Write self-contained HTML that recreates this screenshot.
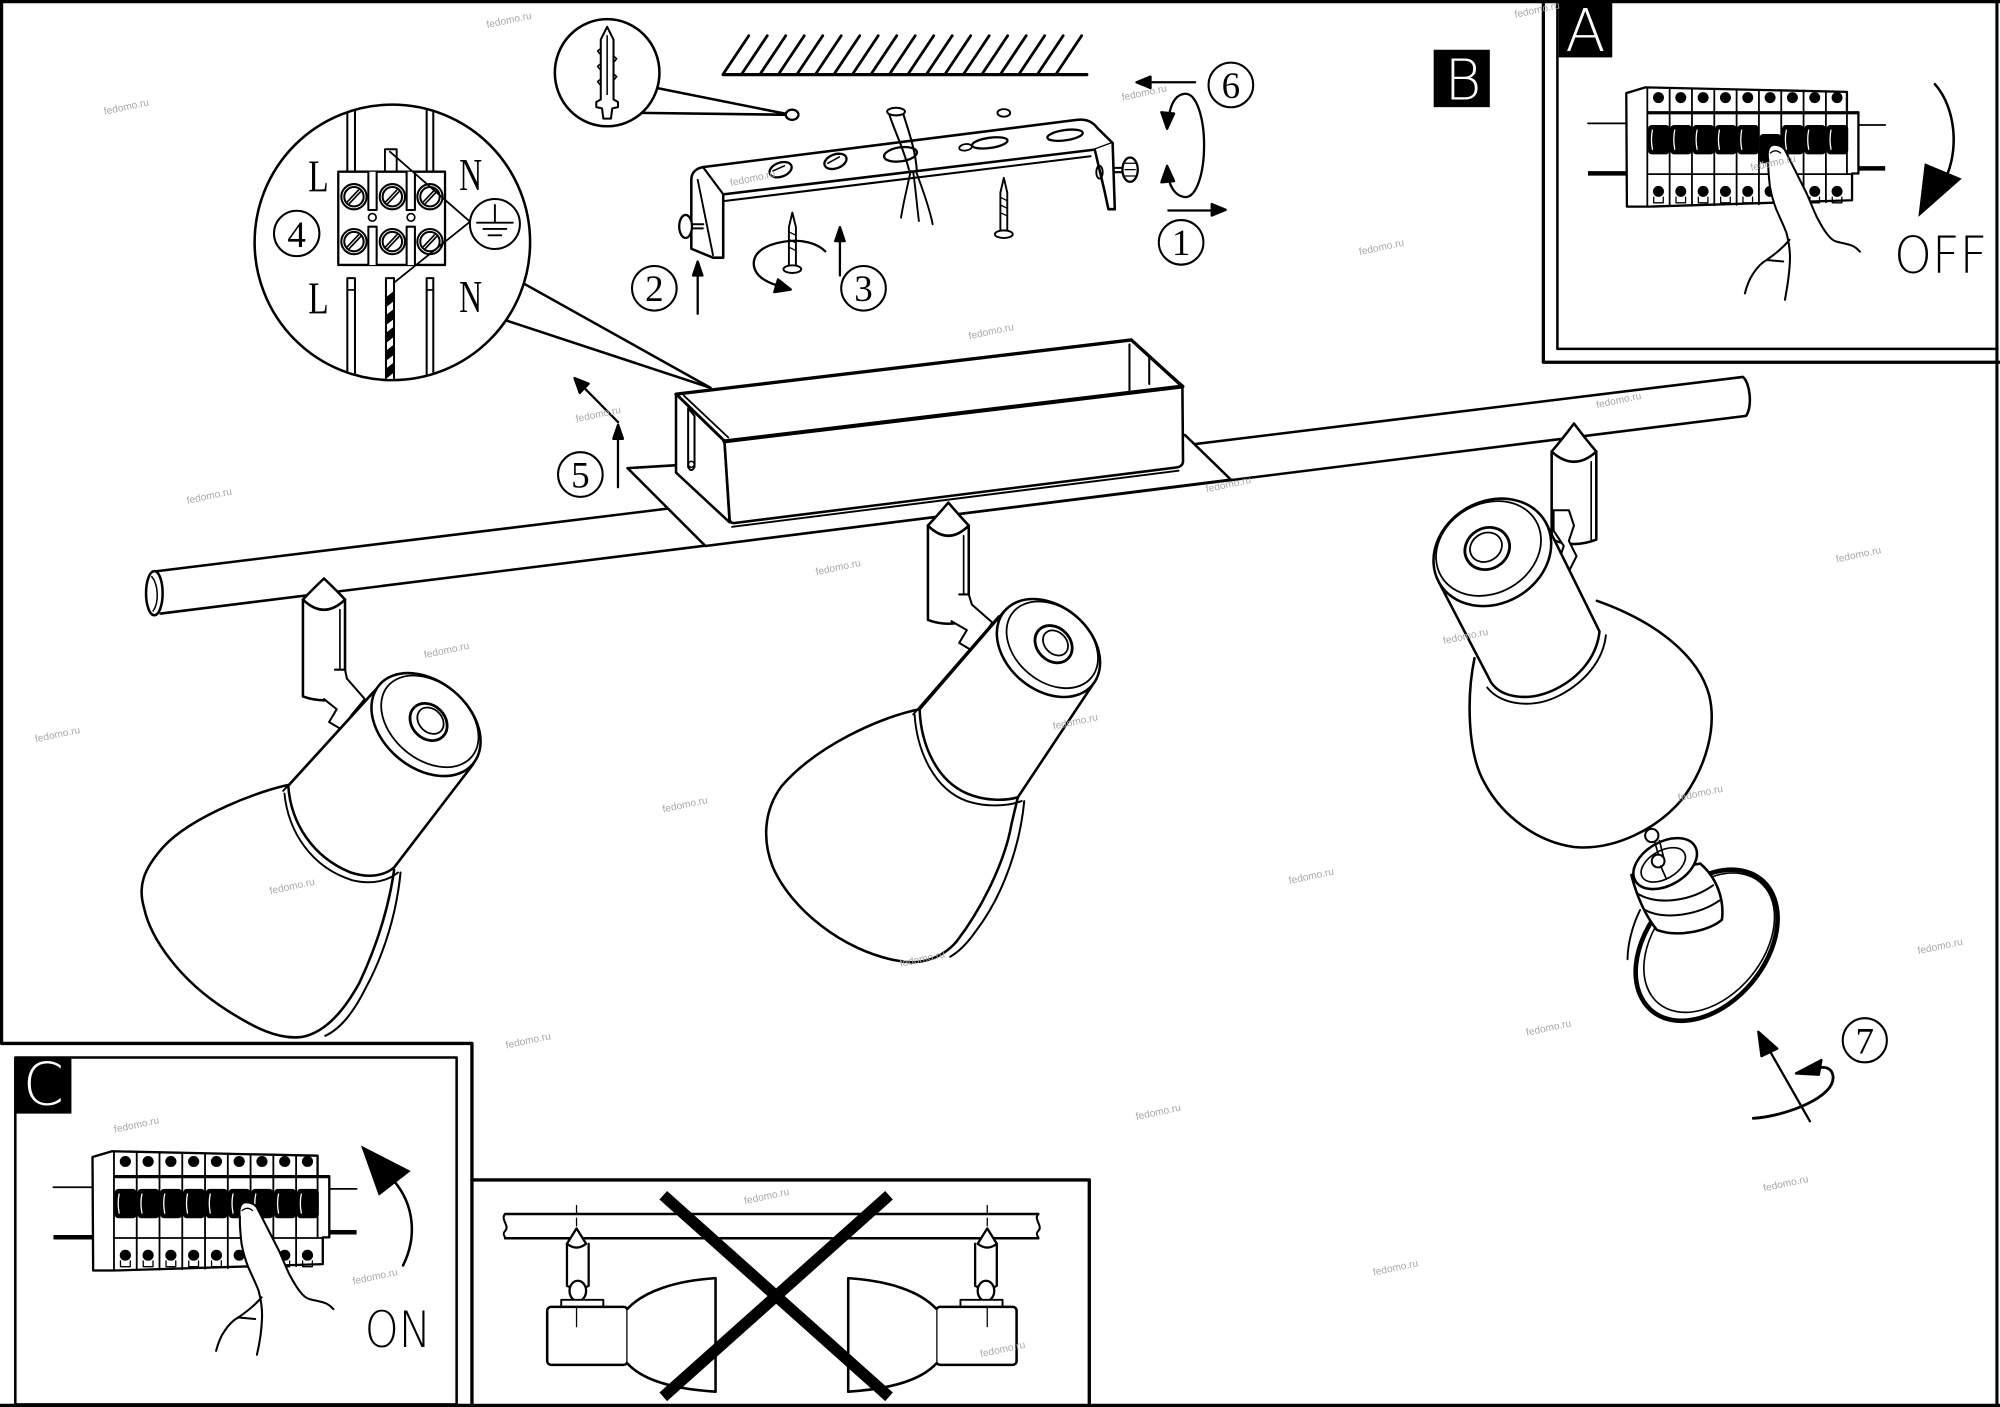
<!DOCTYPE html>
<html><head><meta charset="utf-8"><title>Assembly diagram</title>
<style>html,body{margin:0;padding:0;background:#fff}svg{display:block}</style></head>
<body>
<svg xmlns="http://www.w3.org/2000/svg" width="2000" height="1407" viewBox="0 0 1568 1103" preserveAspectRatio="none">
<defs>
<clipPath id="mc"><circle cx="307.6" cy="190" r="107"/></clipPath>
</defs>
<rect x="0" y="0" width="1568" height="1103" fill="#fff"/>
<g fill="none" stroke="#000" stroke-width="1.8" stroke-linecap="round" stroke-linejoin="round">

<!-- frames -->
<path d="M0,1.2 H1568" stroke-width="2.6"/>
<path d="M1.2,0 V818 H370 V1103" stroke-width="2.6"/>
<path d="M0,1101.8 H1568" stroke-width="2.6"/>
<path d="M1565.6,0 V1103" stroke-width="2.4"/>
<rect x="12" y="829" width="346" height="272" stroke-width="2"/>
<path d="M370,925 H854 V1103" stroke-width="2.6"/>
<path d="M1210,0 V284 H1568" stroke-width="2.6"/>
<path d="M1221,0 V273.5 H1566" stroke-width="2"/>

<!-- ceiling hatch -->
<path d="M567,58L587,28M581.5,58L601.5,28M596,58L616,28M610.5,58L630.5,28M625,58L645,28M639.5,58L659.5,28M654,58L674,28M668.5,58L688.5,28M683,58L703,28M697.5,58L717.5,28M712,58L732,28M726.5,58L746.5,28M741,58L761,28M755.5,58L775.5,28M770,58L790,28M784.5,58L804.5,28M799,58L819,28M813.5,58L833.5,28M828,58L848,28" stroke-width="2.2"/>
<path d="M567,58.5 H852" stroke-width="2.6"/>

<!-- dowel magnifier -->
<path d="M515,69 L620,90 M502,88.5 L620,90" stroke-width="2"/>
<ellipse cx="621" cy="90" rx="5" ry="4" fill="#fff"/>
<ellipse cx="476" cy="57" rx="41" ry="42" fill="#fff" stroke-width="2"/>
<path d="M476,21 L471,31 L471,78 L467.5,80 L467.5,84 L472,85 L473,93 L479,93 L480,85 L484.5,84 L484.5,80 L481,78 L481,31 Z" fill="#fff" stroke-width="1.6"/>
<path d="M476,28 V74 M471,38 L468.5,40 L471,43 M471,50 L468.5,52 L471,55 M471,62 L468.5,64 L471,67 M481,44 L483.5,46 L481,49 M481,58 L483.5,60 L481,63" stroke-width="1.2"/>

<!-- bracket -->
<path d="M551,131 L844,94 C852,93 857,96 860,100 L872.3,112.1 L858.3,117.3 L566.9,152.4 Z" fill="#fff" stroke-width="2"/>
<path d="M551,131 C546,132 542,135 542,141 L542,195 L559,202 L567,202 L567,153" fill="#fff" stroke-width="2"/>
<path d="M551,131 L567,152.4 M547,141 L559,200" stroke-width="1.5"/>
<path d="M568,157.6 L855,122.5" stroke-width="1.6"/>
<path d="M858.3,117.3 L866,150 L869,164 L874,164 L872.3,112.1" fill="#fff" stroke-width="2"/>
<ellipse cx="862" cy="135" rx="2.5" ry="5" stroke-width="1.5"/>
<ellipse cx="612" cy="133" rx="9" ry="5.5" transform="rotate(-20 612 133)" stroke-width="1.8"/>
<path d="M606,134 L615,130" stroke-width="1.2"/>
<ellipse cx="655" cy="126.5" rx="9" ry="5.5" transform="rotate(-20 655 126.5)" stroke-width="1.8"/>
<path d="M649,128 L658,123" stroke-width="1.2"/>
<ellipse cx="706" cy="121" rx="13" ry="5.5" transform="rotate(-8 706 121)" stroke-width="1.8"/>
<ellipse cx="757" cy="115.5" rx="5" ry="2.5" transform="rotate(-8 757 115.5)" stroke-width="1.4"/>
<ellipse cx="776" cy="112" rx="14" ry="4" transform="rotate(-8 776 112)" stroke-width="1.8"/>
<ellipse cx="835" cy="106" rx="14" ry="4" transform="rotate(-8 835 106)" stroke-width="1.8"/>
<ellipse cx="787" cy="88.5" rx="5" ry="3" stroke-width="1.5"/>
<!-- cable -->
<path d="M696.5,87.4 C700,100 708,115 712.6,133 M708,88.7 C712,102 718,118 718.8,134.2" stroke-width="1.6"/>
<ellipse cx="702.5" cy="87.5" rx="7" ry="3" fill="#fff" stroke-width="1.6"/>
<path d="M714,134 C711,148 708,160 706.4,170.6 M716,135 C718,150 719,162 720.4,173.2 M718,134 C724,150 729,164 731.2,175.8" stroke-width="1.5"/>
<!-- bolts -->
<path d="M542,175.8 L551.4,175.8 M542,179 L551,179" stroke-width="1.6"/>
<ellipse cx="537.5" cy="177.5" rx="5" ry="9" fill="#fff" stroke-width="1.8"/>
<path d="M874,131.6 L880,131.6 M874,135 L880,135" stroke-width="1.6"/>
<ellipse cx="886" cy="133" rx="6" ry="9.5" fill="#fff" stroke-width="1.8"/>
<path d="M882,128 L890,128 M882,133 L890,133 M882,138 L890,138" stroke-width="1"/>
<!-- screws -->
<path d="M621.2,166.7 L618.5,178 L618.5,209 L624,209 L624,178 Z" fill="#fff" stroke-width="1.5"/>
<ellipse cx="621.2" cy="211" rx="7" ry="3" fill="#fff" stroke-width="1.5"/>
<path d="M619,182 L623,184 M619,188 L623,190 M619,194 L623,196" stroke-width="1"/>
<path d="M787,139.4 L784.3,151 L784.3,181 L789.7,181 L789.7,151 Z" fill="#fff" stroke-width="1.5"/>
<ellipse cx="787" cy="183.6" rx="7" ry="3" fill="#fff" stroke-width="1.5"/>
<path d="M785,155 L789,157 M785,161 L789,163 M785,167 L789,169" stroke-width="1"/>
<!-- rotation arrow around screw -->
<path d="M647,197 C640,190 628,188 618,189 C600,191 590,198 591,208 C592,216 600,221 610,224" stroke-width="1.8"/>
<polygon points="620,227 607,229 610,219" fill="#000"/>
<!-- arrows 2,3 -->
<path d="M547,246 V212" stroke-width="1.8"/>
<polygon points="547,205 543.3,216 550.7,216" fill="#000"/>
<path d="M658.5,216 V185" stroke-width="1.8"/>
<polygon points="658.5,178 654.8,189 662.2,189" fill="#000"/>
<!-- arrows 1 and 6 -->
<path d="M916,165 H952" stroke-width="1.8"/>
<polygon points="961,164.5 950,160 950,169" fill="#000"/>
<path d="M937,64.5 H900" stroke-width="1.8"/>
<polygon points="891,64.5 902,60 902,69" fill="#000"/>
<path d="M917,88 C919,79 923,74 929,73.5 C938,73 944,92 944,114 C944,136 938,155 929,154.5 C923,154 919,149 917,143" stroke-width="1.8"/>
<polygon points="915,101 910.5,88 920.5,89" fill="#000"/>
<polygon points="915,130 910.5,143 920.5,142" fill="#000"/>

<!-- circled numbers -->
<circle cx="926" cy="190" r="17.5" stroke-width="1.6"/>
<circle cx="513" cy="226" r="17.5" stroke-width="1.6"/>
<circle cx="677" cy="226" r="17.5" stroke-width="1.6"/>
<circle cx="455" cy="372" r="17.5" stroke-width="1.6"/>
<circle cx="965" cy="66.6" r="17.5" stroke-width="1.6"/>
<circle cx="1462" cy="815.5" r="17.3" stroke-width="1.6"/>

<!-- wiring magnifier pointer -->
<path d="M410.3,222.1 L557,304 M395.9,250.9 L557,304" stroke-width="2"/>
<circle cx="307.6" cy="190" r="108" fill="#fff" stroke-width="2"/>
<circle cx="232.6" cy="183" r="17.8" stroke-width="1.6"/>
<g clip-path="url(#mc)">
<path d="M272.3,70 V134.6 M278.3,70 V134.6 M334.5,70 V134.6 M339.7,70 V134.6" stroke-width="1.6"/>
<rect x="301.8" y="117" width="9.2" height="17.6" stroke-width="1.5"/>
<path d="M265.2,134.6 H348.9 V207.7 H265.2 Z" fill="#fff" stroke-width="1.8"/>
<path d="M288.8,134.6 V164.6 H295.3 V134.6 M318.8,134.6 V164.6 H325.3 V134.6 M288.8,207.7 V177.7 H295.3 V207.7 M318.8,207.7 V177.7 H325.3 V207.7" fill="#fff" stroke-width="1.6"/>
<circle cx="291.9" cy="170.4" r="3" stroke-width="1.3"/>
<circle cx="322.2" cy="170.4" r="3" stroke-width="1.3"/>
<g stroke-width="1.6">
<circle cx="277.5" cy="154.2" r="9.9"/><circle cx="277.5" cy="154.2" r="7.6"/>
<circle cx="307.6" cy="154.2" r="9.9"/><circle cx="307.6" cy="154.2" r="7.6"/>
<circle cx="337.1" cy="154.2" r="9.9"/><circle cx="337.1" cy="154.2" r="7.6"/>
<circle cx="277.5" cy="189.4" r="9.9"/><circle cx="277.5" cy="189.4" r="7.6"/>
<circle cx="307.6" cy="189.4" r="9.9"/><circle cx="307.6" cy="189.4" r="7.6"/>
<circle cx="337.1" cy="189.4" r="9.9"/><circle cx="337.1" cy="189.4" r="7.6"/>
</g>
<path d="M272.5,158 L281,149 M274,159.5 L282.5,150.5 M302.6,158 L311.1,149 M304.1,159.5 L312.6,150.5 M332.1,158 L340.6,149 M333.6,159.5 L342.1,150.5 M272.5,193.2 L281,184.2 M274,194.7 L282.5,185.7 M302.6,193.2 L311.1,184.2 M304.1,194.7 L312.6,185.7 M332.1,193.2 L340.6,184.2 M333.6,194.7 L342.1,185.7" stroke-width="1.3"/>
<path d="M305.7,118.9 L368.5,173.8 L308.4,222" stroke-width="1.4"/>
<rect x="272.3" y="218" width="6" height="90" fill="#fff" stroke-width="1.6"/>
<path d="M272.3,227.3 H278.3" stroke-width="1.3"/>
<rect x="334.5" y="218" width="5.2" height="90" fill="#fff" stroke-width="1.6"/>
<path d="M334.5,227.3 H339.7" stroke-width="1.3"/>
<rect x="302.6" y="218" width="6.3" height="90" fill="#fff" stroke-width="1.6"/>
<path d="M302.6,233 L308.9,228 L308.9,236 L302.6,241 Z M302.6,247 L308.9,242 L308.9,250 L302.6,255 Z M302.6,261 L308.9,256 L308.9,264 L302.6,269 Z M302.6,275 L308.9,270 L308.9,278 L302.6,283 Z M302.6,289 L308.9,284 L308.9,292 L302.6,297 Z" fill="#000" stroke="none"/>
</g>
<circle cx="388" cy="175.6" r="19.6" fill="#fff" stroke-width="1.6"/>
<path d="M388,160.7 V174.6 M374,174.6 H402 M379,179.5 H397 M383,184.5 H393" stroke-width="1.5"/>

<!-- rod -->
<path d="M121,448 L1366.5,295.5 C1372,300 1374,318 1369,326 L126,481" fill="#fff" stroke-width="2"/>
<ellipse cx="121" cy="465" rx="6.5" ry="17.3" fill="#fff" stroke-width="2"/>
<path d="M119,452 C124,458 125,472 120,479" stroke-width="1.2"/>

<!-- plate & box -->
<path d="M492,367 L929,341 L965,376 L553,428 Z" fill="#fff" stroke-width="2"/>
<path d="M530,309 L887,266.5 L927,303 L568,346 Z" fill="#fff" stroke-width="2.6"/>
<path d="M530,309 L568,346 L572,409.5 L530,370.5 Z" fill="#fff" stroke-width="2"/>
<path d="M568,346 L927,303 L927.5,362 Q927,366 922,366.5 L576,410 Q572,410.5 572,406 Z" fill="#fff" stroke-width="2"/>
<path d="M568,346 L927,303" stroke-width="3.2"/>
<path d="M574,413 L924,369" stroke-width="1.5"/>
<path d="M536,310 L571,343" stroke-width="1.4"/>
<path d="M885.5,270 V306 M887,266.5 L901,280 V301 M902,280 L927,302" stroke-width="1.6"/>
<path d="M539.5,320 L539.5,366 Q542,371 544.5,366 L544.5,326 Z" stroke-width="1.6"/>
<circle cx="542" cy="364" r="2.3" stroke-width="1.2"/>

<!-- knuckles -->
<path d="M237.5,470 V546 Q254,552 270.5,546 V470" fill="#fff" stroke-width="2"/>
<path d="M266.5,478 V546" stroke-width="1.3"/>
<path d="M237.5,470 Q245,462 254,453.5 Q263,462 270.5,470 Q254,486 237.5,470 Z" fill="#fff" stroke-width="2"/>
<path d="M262.6,525 L270.5,525 L272,532 L286,548 L276,560 L268,572 L258,566 L264,556 L254,548" fill="#fff" stroke-width="1.6"/>

<path d="M727.5,412 V486 Q743.5,492 759.5,486 V412" fill="#fff" stroke-width="2"/>
<path d="M755.5,420 V486" stroke-width="1.3"/>
<path d="M727.5,412 Q735,404 743.5,394 Q752,404 759.5,412 Q743.5,428 727.5,412 Z" fill="#fff" stroke-width="2"/>
<path d="M752,466 L759.5,466 L762,474 L778,488 L770,500 L762,510 L752,504 L758,494 L746,487" fill="#fff" stroke-width="1.6"/>

<path d="M1216.5,354 V423 Q1234,430 1251.5,423 V354" fill="#fff" stroke-width="2"/>
<path d="M1247.5,362 V423" stroke-width="1.3"/>
<path d="M1216.5,354 Q1225,344 1234,332 Q1243,344 1251.5,354 Q1234,370 1216.5,354 Z" fill="#fff" stroke-width="2"/>
<path d="M1218,400 L1230,400 L1234,412 L1230,424 L1236,436 L1230,448 L1222,440 L1226,428 L1218,416 Z" fill="#fff" stroke-width="1.6"/>

<!-- left lamp -->
<path d="M228,615 C205,619 150,640 128,664 C112,682 108,695 113,712 C118,735 140,768 178,792 C200,806 218,815 236,813 C255,810 270,792 282,770 C296,740 305,710 309,682" fill="#fff" stroke-width="2"/>
<path d="M314,684 C311,716 301,748 287,774 C278,792 268,806 255,812" stroke-width="1.6"/>
<path d="M297,538 L226,616 C228,645 245,672 275,684 C290,689 302,686 309,680 L371,599 Z" fill="#fff" stroke-width="2"/>
<path d="M292,543 L222,620 M223,622 C226,652 244,680 276,690 C292,694 305,690 312,684" stroke-width="1.5"/>
<ellipse cx="334" cy="568" rx="48" ry="34" transform="rotate(40 334 568)" fill="#fff" stroke-width="2"/>
<ellipse cx="337" cy="565.5" rx="43" ry="30" transform="rotate(40 337 565.5)" stroke-width="1.4"/>
<ellipse cx="336" cy="566" rx="16" ry="13" transform="rotate(45 336 566)" stroke-width="2.2"/>
<ellipse cx="337.5" cy="565" rx="11.5" ry="9" transform="rotate(45 337.5 565)" stroke-width="1.4"/>

<!-- middle lamp -->
<path d="M721,556 C690,562 640,585 613,616 C598,636 598,660 606,680 C620,712 660,745 703,753 C720,757 738,752 750,738 C770,712 788,675 793,646 L798,625" fill="#fff" stroke-width="2"/>
<path d="M803,628 C800,660 788,700 765,730 C758,740 752,746 745,750" stroke-width="1.6"/>
<path d="M787.5,479 L721,556 C722,585 735,612 758,622 C772,628 788,628 798,625 L856.5,537 Z" fill="#fff" stroke-width="2"/>
<path d="M783,483 L716,560 M717,560 C719,590 733,619 758,628 C773,633 790,632 801,628" stroke-width="1.5"/>
<ellipse cx="822" cy="508" rx="45" ry="33" transform="rotate(40 822 508)" fill="#fff" stroke-width="2"/>
<ellipse cx="825" cy="505.5" rx="40" ry="29" transform="rotate(40 825 505.5)" stroke-width="1.4"/>
<ellipse cx="826" cy="505" rx="16" ry="13" transform="rotate(45 826 505)" stroke-width="2.2"/>
<ellipse cx="827.5" cy="504" rx="11" ry="8.5" transform="rotate(45 827.5 504)" stroke-width="1.4"/>

<!-- right lamp -->
<path d="M1156,516 C1150,545 1150,590 1164,614 C1178,640 1205,660 1234,664 C1265,667 1300,650 1320,625 C1338,600 1346,570 1340,545 C1332,515 1300,488 1252,471" fill="#fff" stroke-width="2"/>
<path d="M1128.4,457 L1169,535 C1178,548 1200,550 1220,540 C1238,531 1252,515 1254,495 L1211.6,409 Z" fill="#fff" stroke-width="2"/>
<path d="M1166,539 C1177,553 1202,556 1223,545 C1242,535 1257,518 1259,498" stroke-width="1.5"/>
<ellipse cx="1170" cy="433" rx="48" ry="40" transform="rotate(-30 1170 433)" fill="#fff" stroke-width="2"/>
<ellipse cx="1167" cy="430" rx="43" ry="35" transform="rotate(-30 1167 430)" stroke-width="1.4"/>
<ellipse cx="1166" cy="430" rx="18" ry="16" transform="rotate(-30 1166 430)" stroke-width="2.2"/>
<ellipse cx="1165" cy="429" rx="13" ry="11" transform="rotate(-30 1165 429)" stroke-width="1.4"/>

<!-- bulb -->
<ellipse cx="1338" cy="741" rx="67" ry="46" transform="rotate(-50 1338 741)" fill="#fff" stroke-width="3.6"/>
<ellipse cx="1340" cy="739" rx="62" ry="42" transform="rotate(-50 1340 739)" stroke-width="1.3"/>
<path d="M1285.8,713.4 C1280,725 1276,740 1276,752" stroke-width="1.5"/>
<path d="M1279,686 C1283,702 1290,718 1299,729 C1315,735 1340,730 1350,721 C1352,705 1346,688 1333,677 Z" fill="#fff" stroke-width="2"/>
<path d="M1283,700 C1298,710 1325,707 1343,694 M1289,713 C1305,722 1332,717 1348,706" stroke-width="1.6"/>
<ellipse cx="1305.5" cy="677" rx="27" ry="17" transform="rotate(-30 1305.5 677)" fill="#fff" stroke-width="2"/>
<ellipse cx="1304" cy="678" rx="19" ry="11" transform="rotate(-30 1304 678)" stroke-width="1.3"/>
<path d="M1297,659 L1302,676 M1301,659 L1305,675" stroke-width="1.3"/>
<circle cx="1295" cy="655" r="5.2" fill="#fff" stroke-width="1.6"/>
<circle cx="1300" cy="675" r="5" fill="#fff" stroke-width="1.6"/>
<path d="M1302,679 L1306,688" stroke-width="1.3"/>

<!-- arrow 5 -->
<path d="M484.5,382 V341" stroke-width="1.8"/>
<polygon points="484.6,333 480.8,344 488.4,344" fill="#000"/>
<path d="M484.6,331 L458,304" stroke-width="1.8"/>
<polygon points="450.4,296.4 454.5,308 461.5,300.8" fill="#000"/>

<!-- arrow 7 -->
<path d="M1419,879 L1383,816" stroke-width="1.8"/>
<polygon points="1378.5,808.8 1381,828 1393.4,822" fill="#000"/>
<path d="M1374.6,876.7 C1400,875 1440,860 1437,843 C1436,838 1432,836 1426,837" stroke-width="2.2"/>
<polygon points="1408,841.5 1428,831 1426,842.5" fill="#000"/>

<!-- X panel -->
<path d="M396,951.7 H814 M396,970.7 H814" stroke-width="2"/>
<path d="M396,951.7 C392,956 400,961 396,965 C393,968 397,970 396,970.7 M814,951.7 C810,956 818,961 814,965 C811,968 815,970 814,970.7" stroke-width="1.6"/>
<g>
<path d="M452,945 V1040" stroke-width="1" stroke-dasharray="6 4"/>
<path d="M444.5,975 V1008 Q453,1013 461.5,1008 V975" fill="#fff" stroke-width="1.8"/>
<path d="M444.5,975 L452,963 L459.5,975 Q452,981 444.5,975 Z" fill="#fff" stroke-width="1.8"/>
<ellipse cx="453" cy="1012" rx="6.5" ry="8" fill="#fff" stroke-width="1.8"/>
<rect x="440" y="1019" width="33" height="6" fill="#fff" stroke-width="1.5"/>
<rect x="429" y="1024.5" width="63" height="45.5" rx="3" fill="#fff" stroke-width="2"/>
<path d="M452,1024.5 V1040" stroke-width="1"/>
<path d="M492,1026 C505,1012 530,1004 561,1002 L561,1091 C530,1089 505,1083 492,1069" fill="#fff" stroke-width="2"/>
</g>
<g transform="translate(1226,0) scale(-1,1)">
<path d="M452,945 V1040" stroke-width="1" stroke-dasharray="6 4"/>
<path d="M444.5,975 V1008 Q453,1013 461.5,1008 V975" fill="#fff" stroke-width="1.8"/>
<path d="M444.5,975 L452,963 L459.5,975 Q452,981 444.5,975 Z" fill="#fff" stroke-width="1.8"/>
<ellipse cx="453" cy="1012" rx="6.5" ry="8" fill="#fff" stroke-width="1.8"/>
<rect x="440" y="1019" width="33" height="6" fill="#fff" stroke-width="1.5"/>
<rect x="429" y="1024.5" width="63" height="45.5" rx="3" fill="#fff" stroke-width="2"/>
<path d="M452,1024.5 V1040" stroke-width="1"/>
<path d="M492,1026 C505,1012 530,1004 561,1002 L561,1091 C530,1089 505,1083 492,1069" fill="#fff" stroke-width="2"/>
</g>
<path d="M520,937 L697,1095 M697,937 L520,1095" stroke-width="9" stroke-linecap="butt"/>

<!-- breaker A -->
<g transform="translate(1274,68)">
<path d="M-29,28.7 H2" stroke-width="1.4"/>
<path d="M-29,67.9 H2" stroke-width="3.5" stroke-linecap="butt"/>
<path d="M183,30 H204" stroke-width="1.4"/>
<path d="M183,64 H204" stroke-width="3.5" stroke-linecap="butt"/>
<path d="M1,5 L16,0.5 L174,4 V20 H183 V68 H178 V89 L18,94 H1.5 Z" fill="#fff" stroke-width="1.8"/>
<path d="M17.5,0.8 V94 M17.5,19.8 H174 M17.5,68.5 H178 M17.5,21 H183 M35,1 V93.5 M52.5,1.3 V93.3 M70,1.6 V93 M87.5,2 V92.6 M105,2.3 V92.2 M122.5,2.7 V91.8 M140,3 V91.3 M157.5,3.4 V90.6 M174,20 V68.5" stroke-width="1.4"/>
<g fill="#000" stroke="none">
<rect x="18" y="30" width="17" height="23" rx="3"/><rect x="35.5" y="30" width="17" height="23" rx="3"/>
<rect x="53" y="30" width="17" height="23" rx="3"/><rect x="70.5" y="30" width="17" height="23" rx="3"/>
<rect x="88" y="30" width="17" height="23" rx="3"/><rect x="105.5" y="37" width="17" height="23" rx="3"/>
<rect x="123" y="30" width="17" height="23" rx="3"/><rect x="140.5" y="30" width="17" height="23" rx="3"/>
<rect x="158" y="30" width="17" height="23" rx="3"/>
<circle cx="26.25" cy="8.5" r="4.3"/><circle cx="43.75" cy="8.5" r="4.3"/><circle cx="61.25" cy="8.5" r="4.3"/>
<circle cx="78.75" cy="8.5" r="4.3"/><circle cx="96.25" cy="8.5" r="4.3"/><circle cx="113.75" cy="8.5" r="4.3"/>
<circle cx="131.25" cy="8.5" r="4.3"/><circle cx="148.75" cy="8.5" r="4.3"/><circle cx="166.25" cy="8.5" r="4.3"/>
<circle cx="26.25" cy="82" r="4.3"/><circle cx="43.75" cy="82" r="4.3"/><circle cx="61.25" cy="82" r="4.3"/>
<circle cx="78.75" cy="82" r="4.3"/><circle cx="96.25" cy="82" r="4.3"/><circle cx="113.75" cy="82" r="4.3"/>
<circle cx="131.25" cy="82" r="4.3"/><circle cx="148.75" cy="82" r="4.3"/><circle cx="166.25" cy="82" r="4.3"/>
</g>
<path d="M21.5,34 Q20,41 21.5,49 M39,34 Q37.5,41 39,49 M56.5,34 Q55,41 56.5,49 M74,34 Q72.5,41 74,49 M91.5,34 Q90,41 91.5,49 M126.5,34 Q125,41 126.5,49 M144,34 Q142.5,41 144,49 M161.5,34 Q160,41 161.5,49" stroke="#fff" stroke-width="1"/>
<path d="M22.5,86.5 V91 H30 V86.5 M40,86.5 V91 H47.5 V86.5 M57.5,86.5 V91 H65 V86.5 M75,86.5 V91 H82.5 V86.5 M92.5,86.5 V91 H100 V86.5 M127.5,86.5 V91 H135 V86.5 M145,86.5 V91 H152.5 V86.5 M162.5,86.5 V91 H170 V86.5" stroke-width="1"/>
<path d="M112.3,57.4 C111,50 113,45.5 117,45.5 C121,45.5 124,47.5 125.4,49.6 L131.9,62.7 L142.4,83.6 C146,92 148,97 150.2,101.8 C153,107 155,111 158,114.9 C161,119 164,121 165.9,121.4 C170,122.5 173,123 176.3,124 C180,125 182,127 184.2,129.3 L184,170 L92,170 L94,162 C96,154 98,150 100.6,146.3 C104,141 107,138 111,135.8 L127,134 C128,120 124,108 119,97 C116,88 113,75 112.3,57.4 Z" fill="#fff" stroke="none"/>
<path d="M112.3,57.4 C111,50 113,45.5 117,45.5 C121,45.5 124,47.5 125.4,49.6 L131.9,62.7 L142.4,83.6 C146,92 148,97 150.2,101.8 C153,107 155,111 158,114.9 C161,119 164,121 165.9,121.4 C170,122.5 173,123 176.3,124 C180,125 182,127 184.2,129.3" stroke-width="1.6"/>
<path d="M112.3,57.4 C112,65 113,72 113.6,78.3 C115,86 117,92 118.8,96.6 C122,104 125,110 126.7,115 C128.5,122 129.5,130 129.3,135.8 C129,148 127,158 125.4,167" stroke-width="1.6"/>
<path d="M94,162 C96,154 98,150 100.6,146.3 C104,141 107,138 111,135.8 C118,131 124,126 129,120 M111,135.8 L124,137" stroke-width="1.6"/>
<path d="M114,52 Q118,48.5 122,52" stroke-width="1"/>
</g>
<path d="M1517,66 C1534,85 1537,122 1522,146" stroke-width="2"/>
<polygon points="1504,170 1509,128 1538,140" fill="#000" stroke="none"/>

<!-- breaker C -->
<g transform="translate(71.5,902) scale(1.02,1)">
<path d="M-29,28.7 H2" stroke-width="1.4"/>
<path d="M-29,67.9 H2" stroke-width="3.5" stroke-linecap="butt"/>
<path d="M183,30 H204" stroke-width="1.4"/>
<path d="M183,64 H204" stroke-width="3.5" stroke-linecap="butt"/>
<path d="M1,5 L16,0.5 L174,4 V20 H183 V68 H178 V89 L18,94 H1.5 Z" fill="#fff" stroke-width="1.8"/>
<path d="M17.5,0.8 V94 M17.5,19.8 H174 M17.5,68.5 H178 M17.5,21 H183 M35,1 V93.5 M52.5,1.3 V93.3 M70,1.6 V93 M87.5,2 V92.6 M105,2.3 V92.2 M122.5,2.7 V91.8 M140,3 V91.3 M157.5,3.4 V90.6 M174,20 V68.5" stroke-width="1.4"/>
<g fill="#000" stroke="none">
<rect x="18" y="30" width="17" height="23" rx="3"/><rect x="35.5" y="30" width="17" height="23" rx="3"/>
<rect x="53" y="30" width="17" height="23" rx="3"/><rect x="70.5" y="30" width="17" height="23" rx="3"/>
<rect x="88" y="30" width="17" height="23" rx="3"/><rect x="105.5" y="30" width="17" height="23" rx="3"/>
<rect x="123" y="30" width="17" height="23" rx="3"/><rect x="140.5" y="30" width="17" height="23" rx="3"/>
<rect x="158" y="30" width="17" height="23" rx="3"/>
<circle cx="26.25" cy="8.5" r="4.3"/><circle cx="43.75" cy="8.5" r="4.3"/><circle cx="61.25" cy="8.5" r="4.3"/>
<circle cx="78.75" cy="8.5" r="4.3"/><circle cx="96.25" cy="8.5" r="4.3"/><circle cx="113.75" cy="8.5" r="4.3"/>
<circle cx="131.25" cy="8.5" r="4.3"/><circle cx="148.75" cy="8.5" r="4.3"/><circle cx="166.25" cy="8.5" r="4.3"/>
<circle cx="26.25" cy="82" r="4.3"/><circle cx="43.75" cy="82" r="4.3"/><circle cx="61.25" cy="82" r="4.3"/>
<circle cx="78.75" cy="82" r="4.3"/><circle cx="96.25" cy="82" r="4.3"/><circle cx="113.75" cy="82" r="4.3"/>
<circle cx="131.25" cy="82" r="4.3"/><circle cx="148.75" cy="82" r="4.3"/><circle cx="166.25" cy="82" r="4.3"/>
</g>
<path d="M21.5,34 Q20,41 21.5,49 M39,34 Q37.5,41 39,49 M56.5,34 Q55,41 56.5,49 M74,34 Q72.5,41 74,49 M91.5,34 Q90,41 91.5,49 M109,34 Q107.5,41 109,49 M126.5,34 Q125,41 126.5,49 M144,34 Q142.5,41 144,49 M161.5,34 Q160,41 161.5,49" stroke="#fff" stroke-width="1"/>
<path d="M22.5,86.5 V91 H30 V86.5 M40,86.5 V91 H47.5 V86.5 M57.5,86.5 V91 H65 V86.5 M75,86.5 V91 H82.5 V86.5 M92.5,86.5 V91 H100 V86.5 M145,86.5 V91 H152.5 V86.5 M162.5,86.5 V91 H170 V86.5" stroke-width="1"/>
<g transform="translate(2,-5)">
<path d="M112.3,57.4 C111,50 113,45.5 117,45.5 C121,45.5 124,47.5 125.4,49.6 L131.9,62.7 L142.4,83.6 C146,92 148,97 150.2,101.8 C153,107 155,111 158,114.9 C161,119 164,121 165.9,121.4 C170,122.5 173,123 176.3,124 C180,125 182,127 184.2,129.3 L184,165 L92,165 L94,162 C96,154 98,150 100.6,146.3 C104,141 107,138 111,135.8 L127,134 C128,120 124,108 119,97 C116,88 113,75 112.3,57.4 Z" fill="#fff" stroke="none"/>
<path d="M112.3,57.4 C111,50 113,45.5 117,45.5 C121,45.5 124,47.5 125.4,49.6 L131.9,62.7 L142.4,83.6 C146,92 148,97 150.2,101.8 C153,107 155,111 158,114.9 C161,119 164,121 165.9,121.4 C170,122.5 173,123 176.3,124 C180,125 182,127 184.2,129.3" stroke-width="1.6"/>
<path d="M112.3,57.4 C112,65 113,72 113.6,78.3 C115,86 117,92 118.8,96.6 C122,104 125,110 126.7,115 C128.5,122 129.5,130 129.3,135.8 C129,148 127,158 125.4,165" stroke-width="1.6"/>
<path d="M94,162 C96,154 98,150 100.6,146.3 C104,141 107,138 111,135.8 C118,131 124,126 129,120 M111,135.8 L124,137" stroke-width="1.6"/>
<path d="M114,52 Q118,48.5 122,52" stroke-width="1"/>
</g>
</g>
<path d="M316,992 C327,970 325,945 309,926" stroke-width="2"/>
<polygon points="283,898 297,937.4 322,918" fill="#000" stroke="none"/>
</g>

<!-- label boxes -->
<rect x="1222" y="0" width="42" height="45" fill="#000"/>
<rect x="1124" y="39" width="44" height="45" fill="#000"/>
<rect x="12" y="829" width="44" height="44" fill="#000"/>
<g font-family="DejaVu Sans, Liberation Sans, sans-serif" font-weight="200" fill="#fff">
<text x="1243" y="40" font-size="46" text-anchor="middle">A</text>
<text x="1147" y="78" font-size="44" text-anchor="middle">B</text>
<text x="34" y="866" font-size="46" text-anchor="middle">C</text>
</g>
<g font-family="DejaVu Sans, Liberation Sans, sans-serif" font-weight="200" fill="#000">
<text x="1485" y="214" font-size="40" textLength="73" lengthAdjust="spacingAndGlyphs">OFF</text>
<text x="286" y="1056" font-size="39" textLength="52" lengthAdjust="spacingAndGlyphs">ON</text>
</g>

<!-- numbers and L/N -->
<g font-family="Liberation Serif, serif" fill="#000" text-anchor="middle" font-size="29">
<text x="926" y="200">1</text>
<text x="513" y="236">2</text>
<text x="677" y="236">3</text>
<text x="232.6" y="193.5">4</text>
<text x="455" y="382">5</text>
<text x="965" y="77">6</text>
<text x="1462" y="826">7</text>
</g>
<g font-family="Liberation Serif, serif" fill="#000" font-size="36">
<text x="241.7" y="150.3" textLength="16" lengthAdjust="spacingAndGlyphs">L</text>
<text x="360" y="149" textLength="18" lengthAdjust="spacingAndGlyphs">N</text>
<text x="241.7" y="245.6" textLength="16" lengthAdjust="spacingAndGlyphs">L</text>
<text x="360" y="244.5" textLength="18" lengthAdjust="spacingAndGlyphs">N</text>
</g>

<!-- watermarks -->
<g font-family="Liberation Sans, sans-serif" font-size="8" fill="#a8a8a8">
<text transform="translate(82,90) rotate(-12)">fedomo.ru</text>
<text transform="translate(382,22) rotate(-12)">fedomo.ru</text>
<text transform="translate(1188,14) rotate(-12)">fedomo.ru</text>
<text transform="translate(880,79) rotate(-12)">fedomo.ru</text>
<text transform="translate(573,146) rotate(-12)">fedomo.ru</text>
<text transform="translate(760,266) rotate(-12)">fedomo.ru</text>
<text transform="translate(1066,200) rotate(-12)">fedomo.ru</text>
<text transform="translate(452,331) rotate(-12)">fedomo.ru</text>
<text transform="translate(147,395) rotate(-12)">fedomo.ru</text>
<text transform="translate(640,451) rotate(-12)">fedomo.ru</text>
<text transform="translate(1252,320) rotate(-12)">fedomo.ru</text>
<text transform="translate(1440,441) rotate(-12)">fedomo.ru</text>
<text transform="translate(946,386) rotate(-12)">fedomo.ru</text>
<text transform="translate(1132,505) rotate(-12)">fedomo.ru</text>
<text transform="translate(826,572) rotate(-12)">fedomo.ru</text>
<text transform="translate(28,582) rotate(-12)">fedomo.ru</text>
<text transform="translate(333,516) rotate(-12)">fedomo.ru</text>
<text transform="translate(520,637) rotate(-12)">fedomo.ru</text>
<text transform="translate(212,701) rotate(-12)">fedomo.ru</text>
<text transform="translate(1011,693) rotate(-12)">fedomo.ru</text>
<text transform="translate(1316,628) rotate(-12)">fedomo.ru</text>
<text transform="translate(1504,748) rotate(-12)">fedomo.ru</text>
<text transform="translate(706,758) rotate(-12)">fedomo.ru</text>
<text transform="translate(1197,812) rotate(-12)">fedomo.ru</text>
<text transform="translate(397,822) rotate(-12)">fedomo.ru</text>
<text transform="translate(891,878) rotate(-12)">fedomo.ru</text>
<text transform="translate(1383,934) rotate(-12)">fedomo.ru</text>
<text transform="translate(90,888) rotate(-12)">fedomo.ru</text>
<text transform="translate(584,944) rotate(-12)">fedomo.ru</text>
<text transform="translate(277,1007) rotate(-12)">fedomo.ru</text>
<text transform="translate(1077,1000) rotate(-12)">fedomo.ru</text>
<text transform="translate(769,1064) rotate(-12)">fedomo.ru</text>
<text transform="translate(1373,134) rotate(-12)">fedomo.ru</text>
</g>
</svg>
</body></html>
